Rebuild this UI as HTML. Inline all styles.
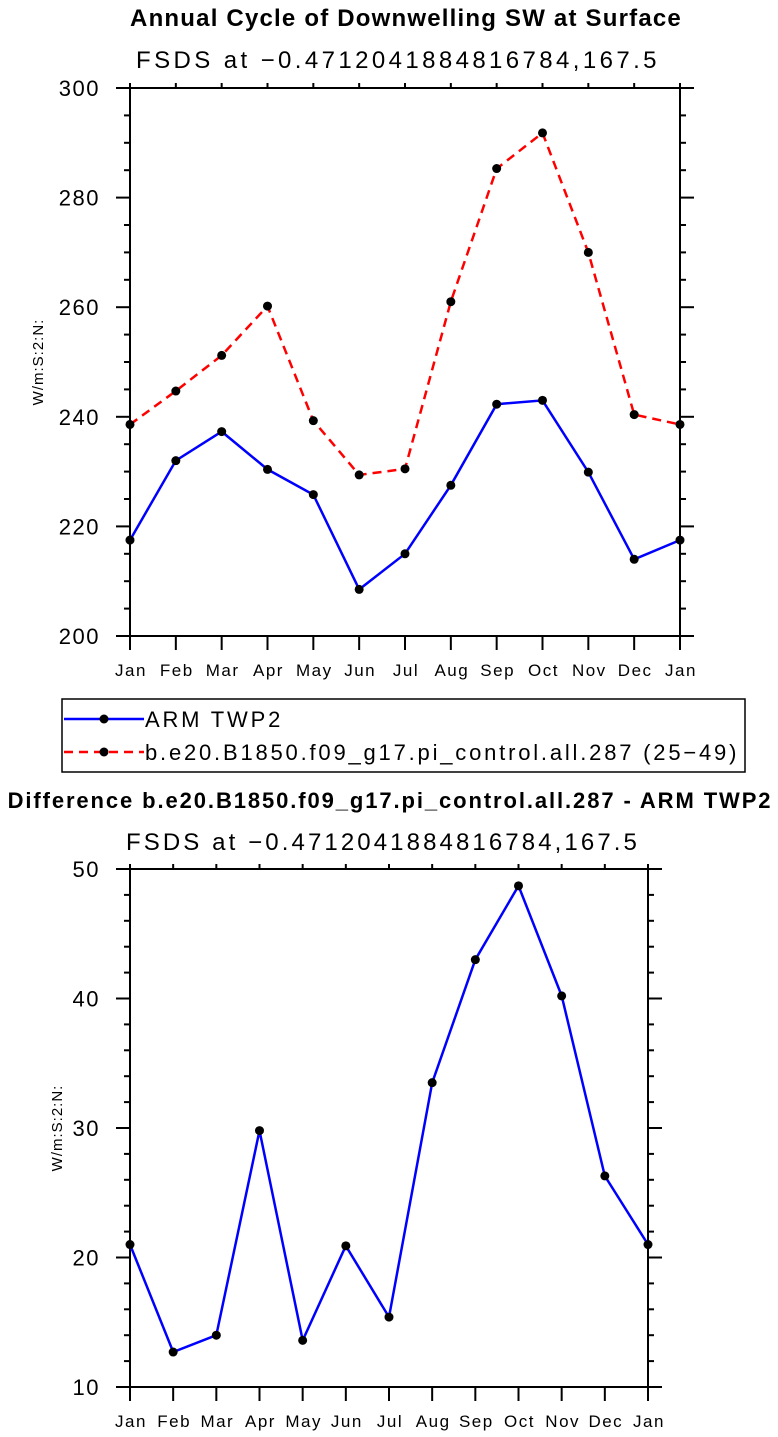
<!DOCTYPE html>
<html><head><meta charset="utf-8"><style>
html,body{margin:0;padding:0;background:#fff;}
svg{display:block;font-family:"Liberation Sans",sans-serif;}
</style></head><body>
<svg id="svg" width="778" height="1437"></svg>
<script>
const months = ["Jan","Feb","Mar","Apr","May","Jun","Jul","Aug","Sep","Oct","Nov","Dec","Jan"];
const armValues = [217.5,232,237.3,230.4,225.8,208.5,215,227.5,242.3,243,229.9,214,217.5];
const modelValues = [238.6,244.7,251.2,260.2,239.3,229.4,230.5,261,285.3,291.8,270,240.4,238.6];
const diffValues = [21,12.7,14,29.8,13.6,20.9,15.4,33.5,43,48.7,40.2,26.3,21];
const topTicks = [200,220,240,260,280,300];
const diffTicks = [10,20,30,40,50];

const NS="http://www.w3.org/2000/svg";
const svg=document.getElementById('svg');
function mk(tag,attrs,parent){const e=document.createElementNS(NS,tag);for(const k in attrs)e.setAttribute(k,attrs[k]);(parent||svg).appendChild(e);return e;}
function txt(s,attrs,parent){const e=mk('text',attrs,parent);e.textContent=s;return e;}

function panel(cfg){
  const g=mk('g',{});
  
  
  const {x0,x1,y0,y1,ymin,ymax,minor}=cfg;
  const X=i=>x0+(x1-x0)*i/(months.length-1);
  const Y=v=>y1-(v-ymin)/(ymax-ymin)*(y1-y0);
  const frame=mk('rect',{x:x0,y:y0,width:x1-x0,height:y1-y0,fill:'none',stroke:'#000','stroke-width':2},g);
  
  
  for(let i=0;i<months.length;i++){
    const x=X(i);
    mk('line',{x1:x,x2:x,y1:y1,y2:y1+14,stroke:'#000','stroke-width':2},g);
    mk('line',{x1:x,x2:x,y1:y0,y2:y0-5,stroke:'#000','stroke-width':2},g);
    const t=txt(months[i],{x:x+1,y:y1+40,'font-size':17,'letter-spacing':1.5,'text-anchor':'middle'},g);
    
    
  }
  for(let v=ymin;v<=ymax+1e-9;v+=minor){
    const y=Y(v);
    const major=cfg.ticks.some(t=>Math.abs(t-v)<1e-6);
    const len=major?14:6;
    mk('line',{x1:x0,x2:x0-len,y1:y,y2:y,stroke:'#000','stroke-width':2},g);
    mk('line',{x1:x1,x2:x1+len,y1:y,y2:y,stroke:'#000','stroke-width':2},g);
  }
  cfg.ticks.forEach(v=>{
    const t=txt(String(v),{x:x0-30,y:Y(v)+8,'font-size':22,'letter-spacing':1.5,'text-anchor':'end'},g);
    
    
  });
  const yl=txt('W/m:S:2:N:',{x:0,y:0,'font-size':15,'letter-spacing':1,'text-anchor':'middle',transform:`translate(${cfg.ylx},${(y0+y1)/2}) rotate(-90)`},g);
  
  
  cfg.series.forEach(s=>{
    const pts=s.values.map((v,i)=>X(i).toFixed(1)+','+Y(v).toFixed(1)).join(' ');
    const pl=mk('polyline',{points:pts,fill:'none',stroke:s.color,'stroke-width':2.5,'stroke-dasharray':s.dash||'none'},g);
    
    
    s.values.forEach((v,i)=>{
      const c=mk('circle',{cx:X(i),cy:Y(v),r:4.5,fill:'#000'},g);
      
      
    });
  });
}

let t;
t=txt('Annual Cycle of Downwelling SW at Surface',{x:406,y:26,'font-size':24,'letter-spacing':1.2,'font-weight':'bold','text-anchor':'middle'});


t=txt('FSDS at \u22120.4712041884816784,167.5',{x:398,y:68,'font-size':24,'letter-spacing':3.4,'text-anchor':'middle'});



panel({name:'annual-cycle-chart',x0:130,x1:680,y0:88,y1:636,ymin:200,ymax:300,minor:5,ticks:topTicks,ylx:43,
  series:[{name:'arm-twp2',values:armValues,color:'#0000ff'},{name:'model',values:modelValues,color:'#ff0000',dash:'9,6'}]});

const lg=mk('g',{});


mk('rect',{x:62,y:699,width:683,height:73,fill:'none',stroke:'#000','stroke-width':1.5},lg);
mk('line',{x1:64,x2:144,y1:719,y2:719,stroke:'#0000ff','stroke-width':2.5},lg);
mk('circle',{cx:104,cy:719,r:4.5,fill:'#000'},lg);
t=txt('ARM TWP2',{x:145,y:727,'font-size':22,'letter-spacing':2.8},lg);


mk('line',{x1:64,x2:144,y1:752,y2:752,stroke:'#ff0000','stroke-width':2.5,'stroke-dasharray':'9,6'},lg);
mk('circle',{cx:104,cy:752,r:4.5,fill:'#000'},lg);
t=txt('b.e20.B1850.f09_g17.pi_control.all.287 (25\u221249)',{x:145,y:760,'font-size':22,'letter-spacing':2.8},lg);



t=txt('Difference b.e20.B1850.f09_g17.pi_control.all.287 - ARM TWP2',{x:390,y:808,'font-size':22,'letter-spacing':1.9,'font-weight':'bold','text-anchor':'middle'});


t=txt('FSDS at \u22120.4712041884816784,167.5',{x:383,y:850,'font-size':24,'letter-spacing':3.1,'text-anchor':'middle'});



panel({name:'difference-chart',x0:130,x1:648,y0:869,y1:1387,ymin:10,ymax:50,minor:2,ticks:diffTicks,ylx:62,
  series:[{name:'difference',values:diffValues,color:'#0000ff'}]});
</script>
</body></html>
